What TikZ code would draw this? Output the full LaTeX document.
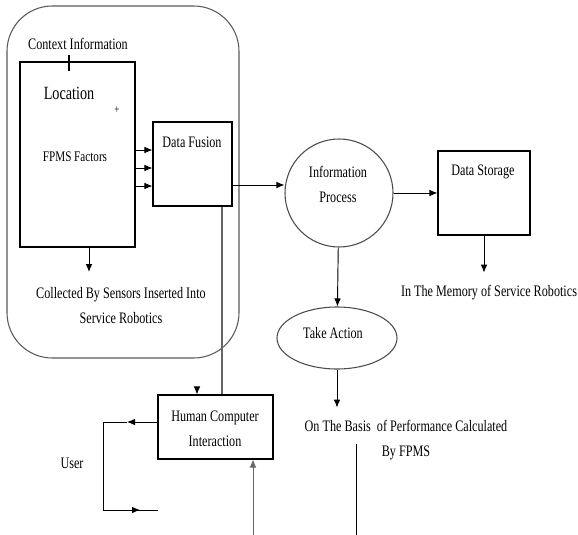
\documentclass[tikz,border=0pt]{standalone}
\usepackage{fontspec}
\setmainfont{Liberation Serif}[FakeStretch=0.76]
\usetikzlibrary{arrows.meta,shapes.geometric}
\tikzset{
  box/.style={draw,line width=.8pt,inner sep=0pt},
  arr/.style={-{Latex[length=6pt,width=5pt]},line width=.7pt},
  gline/.style={black!60,line width=.8pt},
  txt/.style={inner sep=0pt,align=center,font=\fontsize{12}{18.75}\selectfont}
}
\begin{document}
\begin{tikzpicture}[x=.75pt,y=-.75pt]
\useasboundingbox (0,0) rectangle (578,535);
\draw[black!65,line width=.8pt,rounded corners=34pt] (7,6) rectangle (239,358);
\node[box,minimum width=115*.75pt,minimum height=185*.75pt] (ctx) at (77.5,154.5) {};
\node[box,minimum width=79*.75pt,minimum height=84*.75pt] (fusion) at (192.5,164) {};
\node[box,minimum width=92*.75pt,minimum height=84*.75pt] (store) at (484,193) {};
\node[box,minimum width=115*.75pt,minimum height=64*.75pt] (hci) at (215.5,427) {};
\node[draw,black!70,line width=.8pt,circle,minimum size=108*.75pt] (info) at (339,193) {};
\node[draw,black!70,line width=.8pt,ellipse,minimum width=120*.75pt,minimum height=62*.75pt] (act) at (337,338) {};
\node[txt] (ctxlbl) at (78,44) {Context Information};
\node[txt,font=\fontsize{14}{16}\selectfont] (loc) at (69,93) {Location};
\node[txt,font=\fontsize{9}{10}\selectfont] (plus) at (117,110) {+};
\node[txt,font=\fontsize{11}{13}\selectfont] (fpms) at (75,157) {FPMS Factors};
\node[txt] (fuslbl) at (192,142) {Data Fusion};
\node[txt] (coll) at (121,305.5) {Collected By Sensors Inserted Into\\Service Robotics};
\node[txt] (infolbl) at (338,184.5) {Information\\Process};
\node[txt] (storelbl) at (483,172) {Data Storage};
\node[txt] (mem) at (489,293) {In The Memory of Service Robotics};
\node[txt] (actlbl) at (333,333) {Take Action};
\node[txt] (basis) at (406,440) {On The Basis\ \ of Performance Calculated\\By FPMS};
\node[txt] (hcilbl) at (215,429) {Human Computer\\Interaction};
\node[txt] (user) at (72,463) {User};
\coordinate (tick) at (69,55);
\draw[line width=.8pt] (tick) -- (tick|-ctx.north) -- ++(0,10);
\foreach \y in {150,168,186}{
  \coordinate (f\y) at (0,\y);
  \draw[arr] (ctx.east|-f\y) -- (fusion.west|-f\y);
}
\coordinate (ctxdn) at (89,272);
\draw[arr] (ctxdn|-ctx.south) -- (ctxdn);
\coordinate (fi) at (0,185);
\draw[arr] (fusion.east|-fi) -- (info.west|-fi);
\draw[arr] (info) -- (store);
\draw[arr] (store.south) -- ++(0,37);
\draw[arr] (info) -- (act);
\draw[arr] (act.south) -- ++(0,38);
\coordinate (fh) at (222,0);
\draw[gline] (fusion.south-|fh) -- (hci.north-|fh);
\coordinate (hdn) at (197,387);
\draw[arr] (hdn) -- (hdn|-hci.north);
\coordinate (hin) at (253,535);
\draw[arr,black!60] (hin) -- (hin|-hci.south);
\coordinate (uout) at (127,422);
\coordinate (ucorner) at (103,422);
\coordinate (ubot) at (103,510);
\coordinate (uin) at (140,510);
\coordinate (uend) at (158,510);
\draw[arr] (hci.west|-uout) -- (uout);
\draw[line width=.7pt] (uout) -- (ucorner) -- (ubot) -- (uin);
\draw[arr] (ubot) -- (uin);
\draw[line width=.7pt] (uin) -- (uend);
\coordinate (btop) at (356,444);
\draw[line width=.7pt] (btop) -- (btop|-hin);
\end{tikzpicture}
\end{document}
